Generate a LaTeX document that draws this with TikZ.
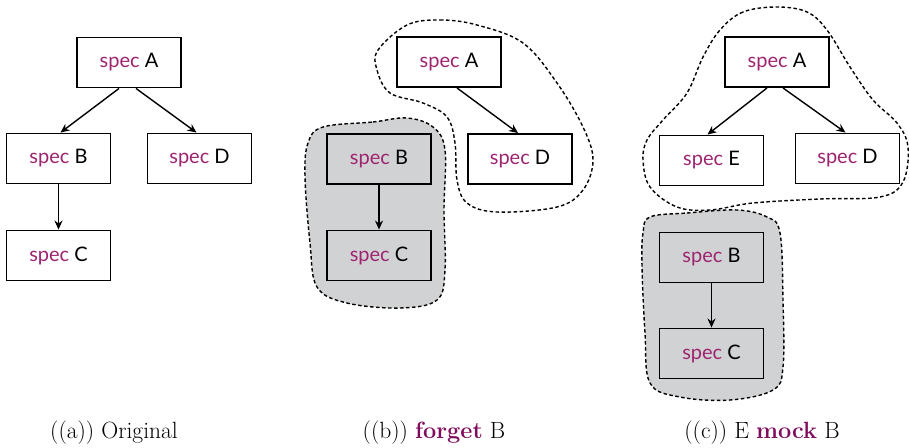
\documentclass[tikz,border=0pt]{standalone}
\usepackage{fontspec}
\usetikzlibrary{arrows.meta}
\newfontfamily\gillfont{Lato}
\definecolor{specpurple}{RGB}{158,36,112}
\definecolor{kwpurple}{RGB}{128,12,92}
\definecolor{blobgray}{RGB}{209,210,212}
\newcommand{\spec}[1]{{\color{specpurple}spec} #1}
\tikzset{
  specbox/.style={draw,line width=1.9pt,fill=white,minimum width=104pt,minimum height=50pt,font=\gillfont\fontsize{20}{23}\selectfont},
  dep/.style={-{Stealth[length=9pt,width=8pt]},line width=1.4pt},
  blob/.style={line width=1.4pt,dash pattern=on 3.5pt off 2.5pt},
  capt/.style={anchor=base,font=\fontsize{23.5}{26}\selectfont}
}
\begin{document}
\begin{tikzpicture}[x=1pt,y=-1pt]
      \useasboundingbox (0,0) rectangle (909,447);
      %(a)
      \node[specbox] (aA) at (129,62.5) {\spec{A}};
      \node[specbox] (aB) at (58.5,158.5) {\spec{B}};
      \node[specbox] (aD) at (199.5,158.5) {\spec{D}};
      \node[specbox] (aC) at (58.5,255.5) {\spec{C}};
      \draw[dep] ([xshift=-10pt]aA.south) -- ([xshift=2pt]aB.north);
      \draw[dep] ([xshift=7pt]aA.south) -- ([xshift=-3pt]aD.north);
      \draw[dep] (aB) -- (aC);
      \node[capt] (capa) at (114,438) {((a)) Original};
      %(b)
      \draw[blob,fill=blobgray] plot[smooth cycle,tension=0.6] coordinates {(323,127) (373,122) (407,118) (433,127) (445,150) (444,210) (445,270) (437,300) (400,308) (347,303) (317,287) (310,243) (305,177) (308,143)};
      \draw[blob] plot[smooth cycle,tension=0.6] coordinates {(407,25) (440,20) (477,25) (523,43) (557,83) (583,127) (593,160) (583,190) (557,207) (497,212) (467,203) (457,180) (455,143) (447,117) (423,103) (390,93) (377,70) (378,50)};
      \node[specbox] (bA) at (449,62) {\spec{A}};
      \node[specbox] (bD) at (520,159) {\spec{D}};
      \node[specbox,fill=blobgray] (bB) at (379,159) {\spec{B}};
      \node[specbox,fill=blobgray] (bC) at (379,255.5) {\spec{C}};
      \draw[dep] ([xshift=8pt]bA.south) -- ([xshift=-2pt]bD.north);
      \draw[dep] (bB) -- (bC);
      \node[capt] (capb) at (434,438) {((b)) {\color{kwpurple}\bfseries forget} B};
      %(c)
      \draw[blob,fill=blobgray] plot[smooth cycle,tension=0.6] coordinates {(650,217) (687,213) (737,210) (767,217) (780,233) (783,300) (783,367) (773,390) (730,400) (680,397) (650,383) (645,333) (642,267) (643,233)};
      \draw[blob] plot[smooth cycle,tension=0.6] coordinates {(777,7) (743,12) (720,30) (703,57) (687,93) (663,120) (647,140) (643,160) (650,187) (677,207) (710,210) (753,203) (820,199) (880,197) (903,182) (908,147) (897,123) (873,100) (850,67) (827,30) (807,12)};
      \node[specbox] (cA) at (777,62) {\spec{A}};
      \node[specbox] (cE) at (711.5,160.5) {\spec{E}};
      \node[specbox] (cD) at (847.5,158.5) {\spec{D}};
      \node[specbox,fill=blobgray] (cB) at (711.5,257.5) {\spec{B}};
      \node[specbox,fill=blobgray] (cC) at (711.5,353.5) {\spec{C}};
      \draw[dep] ([xshift=-10pt]cA.south) -- ([xshift=-4pt]cE.north);
      \draw[dep] ([xshift=6pt]cA.south) -- ([xshift=-2pt]cD.north);
      \draw[dep] (cB) -- (cC);
      \node[capt] (capc) at (762,438) {((c)) E {\color{kwpurple}\bfseries mock} B};
    \end{tikzpicture}
\end{document}
